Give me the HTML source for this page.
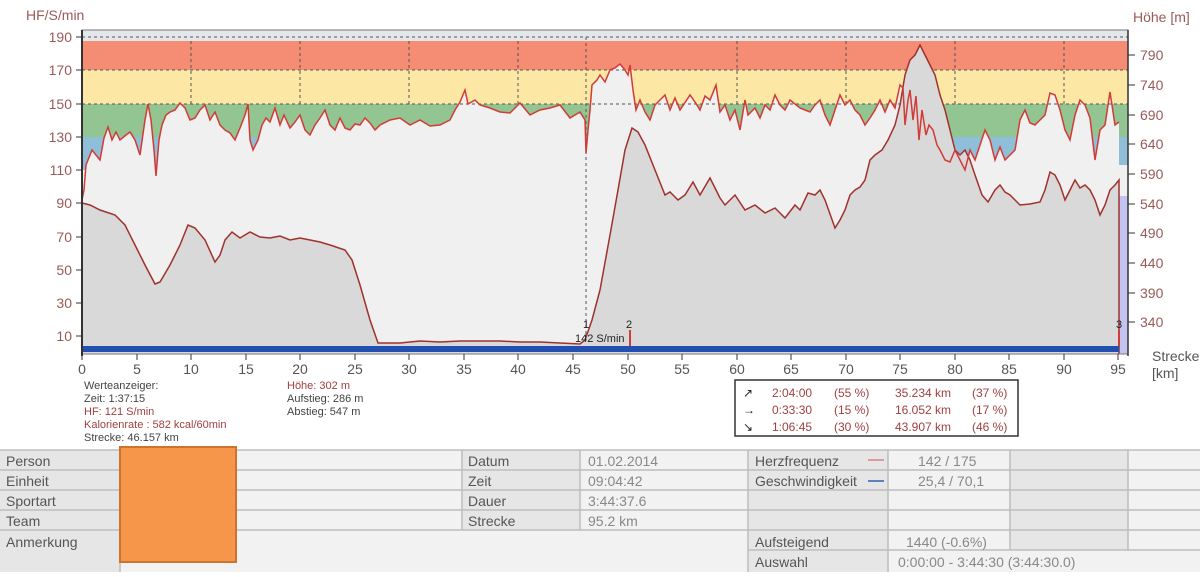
<!DOCTYPE html>
<html><head><meta charset="utf-8"><style>
body{margin:0;background:#fff;width:1200px;height:572px;overflow:hidden;font-family:"Liberation Sans",sans-serif}
svg text{font-family:"Liberation Sans",sans-serif}
</style></head><body>
<svg width="1200" height="572" viewBox="0 0 1200 572">
<rect x="0" y="0" width="1200" height="572" fill="#fff"/>
<rect x="82" y="30" width="1046" height="324" fill="#f0f0f0"/>
<rect x="82" y="30" width="1046" height="11" fill="#e3e6ea"/>
<rect x="82" y="41" width="1046" height="29" fill="#f58c74"/>
<rect x="82" y="70" width="1046" height="34" fill="#fde7a4"/>
<rect x="82" y="104" width="1046" height="33" fill="#92c591"/>
<rect x="82" y="137" width="1046" height="33" fill="#8fbfd8"/>
<polygon fill="#f0f0f0" points="82,354 82,200 84,190 86,165 88,160 92,150 96,155 100,160 104,138 108,127 112,140 116,132 120,140 126,135 130,132 135,140 140,155 145,120 148,104 151,120 154,150 156,176 159,140 162,125 166,115 170,112 175,110 180,103 185,108 190,120 195,118 200,110 205,105 210,120 215,112 220,125 225,130 230,133 235,140 240,128 245,115 248,104 250,140 253,150 258,140 262,125 266,118 270,122 275,108 280,125 284,115 290,128 295,122 300,115 305,130 310,135 315,125 320,118 325,110 330,125 335,130 340,118 345,128 350,130 355,124 360,125 365,118 370,123 375,130 380,125 390,120 400,118 410,125 420,120 430,126 440,125 450,120 455,110 460,102 465,90 468,104 475,100 480,105 490,108 500,112 510,113 520,103 530,115 540,110 550,108 560,105 570,118 580,112 585,120 586,153 588,130 590,110 592,85 597,80 600,75 605,82 610,70 615,68 620,64 625,70 628,75 630,65 633,90 636,110 640,100 645,112 650,120 655,105 660,100 665,95 670,110 675,98 680,110 690,95 695,102 700,110 705,96 710,100 716,85 720,112 725,105 730,120 735,110 740,130 745,100 748,115 755,108 760,118 765,105 770,110 775,95 780,105 785,110 790,100 800,108 805,110 810,112 815,105 820,100 825,115 830,125 835,110 840,95 845,105 850,100 855,110 860,115 865,125 870,118 875,110 880,100 885,112 890,100 895,108 900,85 903,88 905,125 908,100 910,90 913,120 916,96 919,140 922,110 926,135 929,125 933,130 937,145 940,150 945,160 950,162 955,150 960,160 965,170 970,150 975,160 985,130 990,140 995,160 1000,147 1005,160 1010,155 1015,150 1020,120 1025,110 1030,123 1035,125 1040,120 1045,115 1050,93 1055,95 1060,110 1065,130 1070,140 1075,115 1080,100 1085,105 1090,118 1095,160 1100,130 1105,125 1110,92 1115,125 1119,122 1119,354"/>
<rect x="1119" y="137" width="9" height="28" fill="#8fbfd8"/>
<rect x="1119" y="165" width="9" height="31" fill="#f0f0f0"/>
<rect x="1119" y="196" width="9" height="158" fill="#c4c4f2"/>
<g stroke="#555" stroke-width="1" stroke-dasharray="3,3">
<line x1="82" y1="37" x2="1128" y2="37"/><line x1="82" y1="70" x2="1128" y2="70"/><line x1="82" y1="104" x2="1128" y2="104"/>
<line x1="191" y1="41" x2="191" y2="104"/><line x1="300" y1="41" x2="300" y2="104"/><line x1="409" y1="41" x2="409" y2="104"/><line x1="518" y1="41" x2="518" y2="104"/><line x1="586" y1="37" x2="586" y2="345"/><line x1="737" y1="41" x2="737" y2="104"/><line x1="846" y1="41" x2="846" y2="104"/><line x1="955" y1="41" x2="955" y2="104"/><line x1="1064" y1="41" x2="1064" y2="104"/>
</g>
<polyline fill="#d9d9d9" stroke="#a0312c" stroke-width="1.5" points="82,354 82,203 90,205 100,210 115,215 125,225 135,245 145,265 155,284 160,282 170,265 180,245 188,225 195,228 205,240 215,262 220,255 225,240 232,232 240,238 250,232 260,237 270,238 280,236 290,240 300,238 310,240 320,242 330,245 345,250 352,260 360,285 370,320 378,343 390,343 400,343 410,342 420,341 440,342 460,341 480,341 500,341 520,342 540,342 560,343 580,344 585,340 592,320 600,290 610,235 618,190 625,150 632,128 638,132 645,145 655,170 665,195 670,192 678,200 685,195 693,182 700,195 710,178 720,198 725,205 735,195 745,210 755,205 765,213 775,208 785,218 795,205 800,210 808,193 815,195 820,190 825,200 835,228 840,220 845,210 850,195 855,190 860,187 865,180 870,160 875,155 882,150 888,140 895,125 900,105 905,75 910,60 915,55 920,45 925,55 930,65 935,75 940,95 945,110 950,130 955,150 960,155 965,150 970,160 975,175 982,195 988,202 995,190 1000,185 1005,192 1010,195 1020,205 1030,204 1040,202 1045,190 1050,172 1055,175 1060,185 1065,200 1070,190 1075,180 1080,188 1085,185 1090,190 1095,200 1100,215 1105,205 1110,190 1115,185 1119,180 1119,354"/>
<polyline fill="none" stroke="#d23b36" stroke-width="1.5" points="82,200 84,190 86,165 88,160 92,150 96,155 100,160 104,138 108,127 112,140 116,132 120,140 126,135 130,132 135,140 140,155 145,120 148,104 151,120 154,150 156,176 159,140 162,125 166,115 170,112 175,110 180,103 185,108 190,120 195,118 200,110 205,105 210,120 215,112 220,125 225,130 230,133 235,140 240,128 245,115 248,104 250,140 253,150 258,140 262,125 266,118 270,122 275,108 280,125 284,115 290,128 295,122 300,115 305,130 310,135 315,125 320,118 325,110 330,125 335,130 340,118 345,128 350,130 355,124 360,125 365,118 370,123 375,130 380,125 390,120 400,118 410,125 420,120 430,126 440,125 450,120 455,110 460,102 465,90 468,104 475,100 480,105 490,108 500,112 510,113 520,103 530,115 540,110 550,108 560,105 570,118 580,112 585,120 586,153 588,130 590,110 592,85 597,80 600,75 605,82 610,70 615,68 620,64 625,70 628,75 630,65 633,90 636,110 640,100 645,112 650,120 655,105 660,100 665,95 670,110 675,98 680,110 690,95 695,102 700,110 705,96 710,100 716,85 720,112 725,105 730,120 735,110 740,130 745,100 748,115 755,108 760,118 765,105 770,110 775,95 780,105 785,110 790,100 800,108 805,110 810,112 815,105 820,100 825,115 830,125 835,110 840,95 845,105 850,100 855,110 860,115 865,125 870,118 875,110 880,100 885,112 890,100 895,108 900,85 903,88 905,125 908,100 910,90 913,120 916,96 919,140 922,110 926,135 929,125 933,130 937,145 940,150 945,160 950,162 955,150 960,160 965,170 970,150 975,160 985,130 990,140 995,160 1000,147 1005,160 1010,155 1015,150 1020,120 1025,110 1030,123 1035,125 1040,120 1045,115 1050,93 1055,95 1060,110 1065,130 1070,140 1075,115 1080,100 1085,105 1090,118 1095,160 1100,130 1105,125 1110,92 1115,125 1119,122"/>
<rect x="82" y="346" width="1037" height="6" fill="#2350b0"/>
<line x1="630" y1="330" x2="630" y2="346" stroke="#d23b36" stroke-width="2"/>
<line x1="1119" y1="330" x2="1119" y2="346" stroke="#d23b36" stroke-width="2"/>
<text x="583" y="328" font-size="11" fill="#222">1</text>
<text x="626" y="328" font-size="11" fill="#222">2</text>
<text x="1116" y="328" font-size="11" fill="#222">3</text>
<text x="575" y="342" font-size="11" fill="#222">142 S/min</text>
<rect x="82" y="30" width="1046" height="324" fill="none" stroke="#777" stroke-width="1"/>
<line x1="82" y1="30" x2="82" y2="356" stroke="#333" stroke-width="2"/>
<line x1="1128" y1="30" x2="1128" y2="356" stroke="#333" stroke-width="1.5"/>
<g font-size="14" fill="#9a5a5a" text-anchor="end">
<text x="72" y="42">190</text><text x="72" y="75">170</text><text x="72" y="109">150</text><text x="72" y="142">130</text><text x="72" y="175">110</text><text x="72" y="208">90</text><text x="72" y="242">70</text><text x="72" y="275">50</text><text x="72" y="308">30</text><text x="72" y="341">10</text>
</g>
<g stroke="#333"><line x1="76" y1="37" x2="82" y2="37"/><line x1="76" y1="70" x2="82" y2="70"/><line x1="76" y1="104" x2="82" y2="104"/><line x1="76" y1="137" x2="82" y2="137"/><line x1="76" y1="170" x2="82" y2="170"/><line x1="76" y1="203" x2="82" y2="203"/><line x1="76" y1="237" x2="82" y2="237"/><line x1="76" y1="270" x2="82" y2="270"/><line x1="76" y1="303" x2="82" y2="303"/><line x1="76" y1="336" x2="82" y2="336"/></g>
<text x="26" y="20" font-size="14" fill="#9a5a5a">HF/S/min</text>
<g font-size="14" fill="#9a5a5a">
<text x="1140" y="60">790</text><text x="1140" y="90">740</text><text x="1140" y="120">690</text><text x="1140" y="149">640</text><text x="1140" y="179">590</text><text x="1140" y="209">540</text><text x="1140" y="238">490</text><text x="1140" y="268">440</text><text x="1140" y="298">390</text><text x="1140" y="327">340</text>
</g>
<g stroke="#333"><line x1="1128" y1="55" x2="1135" y2="55"/><line x1="1128" y1="85" x2="1135" y2="85"/><line x1="1128" y1="115" x2="1135" y2="115"/><line x1="1128" y1="144" x2="1135" y2="144"/><line x1="1128" y1="174" x2="1135" y2="174"/><line x1="1128" y1="204" x2="1135" y2="204"/><line x1="1128" y1="233" x2="1135" y2="233"/><line x1="1128" y1="263" x2="1135" y2="263"/><line x1="1128" y1="293" x2="1135" y2="293"/><line x1="1128" y1="322" x2="1135" y2="322"/></g>
<text x="1133" y="22" font-size="14" fill="#9a5a5a">Höhe [m]</text>
<text x="1152" y="361" font-size="14" fill="#555">Strecke</text>
<text x="1152" y="378" font-size="14" fill="#555">[km]</text>
<g stroke="#333"><line x1="82" y1="354" x2="82" y2="360"/><line x1="137" y1="354" x2="137" y2="360"/><line x1="191" y1="354" x2="191" y2="360"/><line x1="246" y1="354" x2="246" y2="360"/><line x1="300" y1="354" x2="300" y2="360"/><line x1="355" y1="354" x2="355" y2="360"/><line x1="409" y1="354" x2="409" y2="360"/><line x1="464" y1="354" x2="464" y2="360"/><line x1="518" y1="354" x2="518" y2="360"/><line x1="573" y1="354" x2="573" y2="360"/><line x1="628" y1="354" x2="628" y2="360"/><line x1="682" y1="354" x2="682" y2="360"/><line x1="737" y1="354" x2="737" y2="360"/><line x1="791" y1="354" x2="791" y2="360"/><line x1="846" y1="354" x2="846" y2="360"/><line x1="900" y1="354" x2="900" y2="360"/><line x1="955" y1="354" x2="955" y2="360"/><line x1="1009" y1="354" x2="1009" y2="360"/><line x1="1064" y1="354" x2="1064" y2="360"/><line x1="1118" y1="354" x2="1118" y2="360"/></g>
<g font-size="14" fill="#555" text-anchor="middle">
<text x="82" y="374">0</text><text x="137" y="374">5</text><text x="191" y="374">10</text><text x="246" y="374">15</text><text x="300" y="374">20</text><text x="355" y="374">25</text><text x="409" y="374">30</text><text x="464" y="374">35</text><text x="518" y="374">40</text><text x="573" y="374">45</text><text x="628" y="374">50</text><text x="682" y="374">55</text><text x="737" y="374">60</text><text x="791" y="374">65</text><text x="846" y="374">70</text><text x="900" y="374">75</text><text x="955" y="374">80</text><text x="1009" y="374">85</text><text x="1064" y="374">90</text><text x="1118" y="374">95</text>
</g>
<g font-size="11">
<text x="84" y="389" fill="#444">Werteanzeiger:</text>
<text x="84" y="402" fill="#444">Zeit: 1:37:15</text>
<text x="84" y="415" fill="#a04040">HF: 121 S/min</text>
<text x="84" y="428" fill="#a04040">Kalorienrate : 582 kcal/60min</text>
<text x="84" y="441" fill="#444">Strecke: 46.157 km</text>
<text x="287" y="389" fill="#a04040">Höhe: 302 m</text>
<text x="287" y="402" fill="#444">Aufstieg: 286 m</text>
<text x="287" y="415" fill="#444">Abstieg: 547 m</text>
</g>
<rect x="735" y="380" width="283" height="56" fill="#fff" stroke="#333" stroke-width="1.5"/>
<g font-size="12" fill="#a04040">
<text x="743" y="397" fill="#222">↗</text><text x="772" y="397">2:04:00</text><text x="834" y="397">(55 %)</text><text x="895" y="397">35.234 km</text><text x="972" y="397">(37 %)</text>
<text x="743" y="414" fill="#222">→</text><text x="772" y="414">0:33:30</text><text x="834" y="414">(15 %)</text><text x="895" y="414">16.052 km</text><text x="972" y="414">(17 %)</text>
<text x="743" y="431" fill="#222">↘</text><text x="772" y="431">1:06:45</text><text x="834" y="431">(30 %)</text><text x="895" y="431">43.907 km</text><text x="972" y="431">(46 %)</text>
</g>
<rect x="0" y="450" width="1200" height="122" fill="#f2f2f2"/>
<g fill="#e6e6e6">
<rect x="0" y="450" width="120" height="122"/>
<rect x="462" y="450" width="118" height="80"/>
<rect x="748" y="450" width="140" height="122"/>
<rect x="1010" y="450" width="118" height="100"/>
</g>
<g stroke="#bdbdbd" stroke-width="1.5">
<line x1="0" y1="450" x2="1200" y2="450"/>
<line x1="0" y1="470" x2="1200" y2="470"/>
<line x1="0" y1="490" x2="1200" y2="490"/>
<line x1="0" y1="510" x2="1200" y2="510"/>
<line x1="0" y1="530" x2="1200" y2="530"/>
<line x1="748" y1="550" x2="1200" y2="550"/>
<line x1="120" y1="450" x2="120" y2="572"/>
<line x1="462" y1="450" x2="462" y2="530"/>
<line x1="580" y1="450" x2="580" y2="530"/>
<line x1="748" y1="450" x2="748" y2="572"/>
<line x1="888" y1="450" x2="888" y2="572"/>
<line x1="1010" y1="450" x2="1010" y2="550"/>
<line x1="1128" y1="450" x2="1128" y2="550"/>
</g>
<g font-size="14" fill="#555">
<text x="6" y="466">Person</text><text x="6" y="486">Einheit</text><text x="6" y="506">Sportart</text><text x="6" y="526">Team</text><text x="6" y="547">Anmerkung</text>
<text x="468" y="466">Datum</text><text x="468" y="486">Zeit</text><text x="468" y="506">Dauer</text><text x="468" y="526">Strecke</text>
</g>
<g font-size="14" fill="#888">
<text x="588" y="466">01.02.2014</text><text x="588" y="486">09:04:42</text><text x="588" y="506">3:44:37.6</text><text x="588" y="526">95.2 km</text>
<text x="918" y="466">142 / 175</text><text x="918" y="486">25,4 / 70,1</text><text x="906" y="547">1440 (-0.6%)</text><text x="898" y="567">0:00:00 - 3:44:30 (3:44:30.0)</text>
</g>
<g font-size="14" fill="#555">
<text x="755" y="466">Herzfrequenz</text><text x="755" y="486">Geschwindigkeit</text><text x="755" y="547">Aufsteigend</text><text x="755" y="567">Auswahl</text>
</g>
<line x1="868" y1="460" x2="884" y2="460" stroke="#e08080" stroke-width="1.5"/>
<line x1="868" y1="481" x2="884" y2="481" stroke="#3060b0" stroke-width="1.5"/>
<rect x="120" y="447" width="116" height="115" fill="#f5964a" stroke="#cc7330" stroke-width="2"/>
</svg>
</body></html>
